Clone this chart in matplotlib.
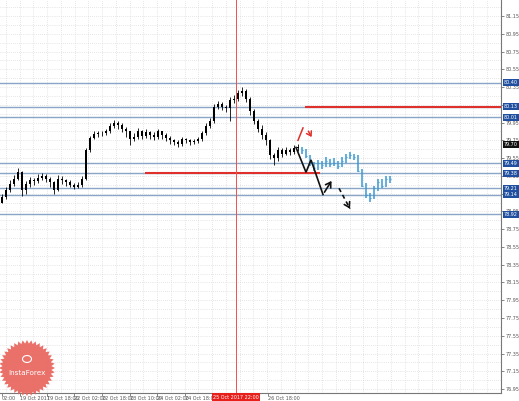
import numpy as np
import matplotlib
matplotlib.use("Agg")
import matplotlib.pyplot as plt
from matplotlib.patches import Polygon, Circle

# ---------------- data ----------------
hist_open = [79.05, 79.11, 79.19, 79.26, 79.32, 79.39, 79.19, 79.26, 79.30, 79.29,
             79.33, 79.35, 79.32, 79.28, 79.19, 79.32, 79.30, 79.28, 79.25, 79.23,
             79.25, 79.32, 79.64, 79.78, 79.82, 79.83, 79.83, 79.85, 79.91, 79.95,
             79.92, 79.88, 79.85, 79.77, 79.79, 79.85, 79.80, 79.84, 79.81, 79.79,
             79.85, 79.81, 79.78, 79.75, 79.73, 79.71, 79.76, 79.75, 79.73, 79.74,
             79.76, 79.83, 79.91, 79.97, 80.13, 80.16, 80.13, 80.11, 80.20, 80.22,
             80.28, 80.31, 80.22, 80.08, 79.97, 79.88, 79.81, 79.75, 79.58, 79.55,
             79.64, 79.60, 79.64, 79.62, 79.66]
hist_close = [79.11, 79.19, 79.26, 79.32, 79.39, 79.19, 79.26, 79.30, 79.29, 79.33,
              79.35, 79.32, 79.28, 79.19, 79.32, 79.30, 79.28, 79.25, 79.23, 79.25,
              79.32, 79.64, 79.78, 79.82, 79.83, 79.83, 79.85, 79.91, 79.95, 79.92,
              79.88, 79.85, 79.77, 79.79, 79.85, 79.80, 79.84, 79.81, 79.79, 79.85,
              79.81, 79.78, 79.75, 79.73, 79.71, 79.76, 79.75, 79.73, 79.74, 79.76,
              79.83, 79.91, 79.97, 80.13, 80.16, 80.13, 80.11, 80.20, 80.22, 80.28,
              80.31, 80.22, 80.08, 79.97, 79.88, 79.81, 79.75, 79.58, 79.55, 79.64,
              79.60, 79.64, 79.62, 79.66, 79.67]
hist_high = [79.15, 79.22, 79.30, 79.36, 79.44, 79.40, 79.29, 79.34, 79.33, 79.37,
             79.38, 79.37, 79.34, 79.29, 79.36, 79.35, 79.32, 79.30, 79.27, 79.28,
             79.35, 79.66, 79.80, 79.85, 79.86, 79.86, 79.88, 79.94, 79.98, 79.97,
             79.94, 79.90, 79.86, 79.83, 79.89, 79.87, 79.88, 79.86, 79.84, 79.88,
             79.86, 79.83, 79.80, 79.77, 79.75, 79.79, 79.78, 79.77, 79.77, 79.79,
             79.86, 79.94, 80.00, 80.16, 80.19, 80.18, 80.15, 80.24, 80.26, 80.32,
             80.35, 80.33, 80.24, 80.10, 79.99, 79.92, 79.84, 79.77, 79.61, 79.67,
             79.66, 79.67, 79.66, 79.70, 79.71]
hist_low = [79.04, 79.09, 79.17, 79.24, 79.30, 79.12, 79.15, 79.23, 79.25, 79.27,
            79.30, 79.28, 79.22, 79.15, 79.18, 79.26, 79.24, 79.22, 79.20, 79.21,
            79.23, 79.30, 79.62, 79.76, 79.79, 79.80, 79.81, 79.83, 79.89, 79.88,
            79.84, 79.79, 79.70, 79.74, 79.77, 79.76, 79.78, 79.77, 79.75, 79.77,
            79.77, 79.74, 79.71, 79.70, 79.68, 79.69, 79.72, 79.70, 79.71, 79.72,
            79.74, 79.81, 79.89, 79.95, 80.10, 80.09, 80.07, 79.97, 80.17, 80.19,
            80.25, 80.18, 80.04, 79.93, 79.84, 79.77, 79.70, 79.54, 79.47, 79.52,
            79.56, 79.58, 79.58, 79.60, 79.63]

fc_close = [79.64, 79.57, 79.49, 79.44, 79.49, 79.47, 79.52, 79.48, 79.50, 79.46,
            79.52, 79.56, 79.58, 79.56, 79.41, 79.24, 79.13, 79.10, 79.21, 79.28,
            79.24, 79.32, 79.31]
fc_high = [79.67, 79.65, 79.58, 79.51, 79.53, 79.52, 79.56, 79.54, 79.55, 79.52,
           79.56, 79.60, 79.62, 79.60, 79.58, 79.43, 79.27, 79.16, 79.24, 79.31,
           79.31, 79.35, 79.35]
fc_low = [79.60, 79.55, 79.46, 79.41, 79.42, 79.43, 79.45, 79.45, 79.46, 79.43,
          79.45, 79.50, 79.54, 79.53, 79.39, 79.22, 79.10, 79.06, 79.09, 79.18,
          79.21, 79.22, 79.27]

level_prices = [80.40, 80.13, 80.01, 79.49, 79.38, 79.21, 79.14, 78.92]
current_price = 79.70
red_level_low = 79.38
red_level_high = 80.13

zigzag_x = [73.5, 76.0, 77.25, 80.25, 82.75]
zigzag_y = [79.67, 79.39, 79.53, 79.14, 79.32]
dash_x = [84.25, 87.0]
dash_y = [79.21, 78.98]
red_up_x = [74.0, 75.25]
red_up_y = [79.75, 79.89]
red_dn_x = [76.25, 77.75]
red_dn_y = [79.88, 79.76]

ytick_vals = [76.95 + 0.2 * k for k in range(23)]
xtick_pos = [0, 4.5, 11.25, 18, 25, 32, 38.75, 45.75, 52.75, 66.5]
xtick_labels = ["02:00", "19 Oct 2017", "19 Oct 18:00", "22 Oct 02:00", "22 Oct 18:00",
                "23 Oct 10:00", "24 Oct 02:00", "24 Oct 18:00", "25 Oct 10:00",
                "26 Oct 18:00"]
cursor_x = 58.5
cursor_label = "25 Oct 2017 22:00"

# ---------------- figure ----------------
W, H = 519, 401
fig = plt.figure(figsize=(W / 100, H / 100), dpi=100)
fig.patch.set_facecolor("white")
ax = fig.add_axes([0, 8.5 / H, 501 / W, 392.5 / H])
ax.set_facecolor("white")

XL = (-0.5, -0.5 + 501 / 4)
YL = (76.911, 81.33)

ax.set_yticks(ytick_vals)
ax.set_yticks([v + 0.1 for v in ytick_vals[:-1]], minor=True)
ax.set_xticks(xtick_pos)
ax.set_xticks(list(np.arange(XL[0] + 1.5, XL[1], 3.4375)), minor=True)
ax.set_xlim(*XL)
ax.set_ylim(*YL)
ax.grid(True, which="minor", color="#cfcfcf", linestyle=(0, (1, 2)), linewidth=0.5)
ax.grid(True, which="major", axis="y", color="#cfcfcf", linestyle=(0, (1, 2)), linewidth=0.5)
ax.set_axisbelow(True)

# horizontal levels
for lp in level_prices:
    ax.axhline(lp, color="#8aa6c6", lw=1.0, zorder=1)

# red levels
ax.hlines(red_level_low, 35.75, 79.5, color="#e0302c", lw=1.5, zorder=2)
ax.hlines(red_level_high, 75.75, 125, color="#e0302c", lw=1.5, zorder=2)

# cursor line
ax.axvline(cursor_x, color="#f05050", lw=0.7, zorder=2)

# candles
xh = np.arange(len(hist_close))
ax.vlines(xh, hist_low, hist_high, color="black", lw=0.6, zorder=3)
bodies = [abs(c - o) if abs(c - o) > 0.004 else 0.006 for o, c in zip(hist_open, hist_close)]
bottoms = [min(o, c) for o, c in zip(hist_open, hist_close)]
ax.bar(xh, bodies, bottom=bottoms, width=0.55, color="black", zorder=3)

# forecast bars
xf = np.arange(len(fc_close)) + len(hist_close)
ax.vlines(xf, fc_low, fc_high, color="#3a9ad2", lw=1.1, zorder=3)
ax.hlines(fc_close, xf, xf + 0.35, color="#3a9ad2", lw=0.8, zorder=3)

# black zigzag
ax.plot(zigzag_x[:-1], zigzag_y[:-1], color="#111111", lw=1.2, zorder=5,
        solid_joinstyle="miter")
ax.annotate("", xy=(zigzag_x[-1], zigzag_y[-1]), xytext=(zigzag_x[-2], zigzag_y[-2]),
            arrowprops=dict(arrowstyle="->,head_length=0.35,head_width=0.22",
                            color="#111111", lw=1.2), zorder=5)
ax.plot(dash_x, dash_y, color="#111111", lw=1.2, ls=(0, (2.5, 2)), zorder=5)
ax.annotate("", xy=(dash_x[-1], dash_y[-1]), xytext=(dash_x[-1] - 0.6, dash_y[-1] + 0.05),
            arrowprops=dict(arrowstyle="->,head_length=0.35,head_width=0.22",
                            color="#111111", lw=1.2), zorder=5)

# red marks
ax.plot(red_up_x, red_up_y, color="#e0302c", lw=1.1, zorder=5)
ax.annotate("", xy=(red_dn_x[1], red_dn_y[1]), xytext=(red_dn_x[0], red_dn_y[0]),
            arrowprops=dict(arrowstyle="->,head_length=0.3,head_width=0.2",
                            color="#e0302c", lw=1.1), zorder=5)

# axes styling
for s in ["top", "left"]:
    ax.spines[s].set_visible(False)
for s in ["right", "bottom"]:
    ax.spines[s].set_color("#777777")
    ax.spines[s].set_linewidth(0.8)
ax.yaxis.tick_right()
ax.set_yticklabels(["%.2f" % v for v in ytick_vals])
ax.set_xticklabels(xtick_labels)
ax.tick_params(axis="y", which="major", labelsize=3.5, length=2, pad=1.5,
               colors="#555555", width=0.5)
ax.tick_params(axis="x", which="major", labelsize=3.5, length=2, pad=0.5,
               colors="#555555", width=0.5)
ax.tick_params(which="minor", length=0)
for lbl in ax.get_xticklabels():
    lbl.set_ha("left")

# price boxes on right axis
ytr = ax.get_yaxis_transform()
for lp in level_prices:
    ax.text(1.006, lp, "%.2f" % lp, transform=ytr, fontsize=3.5, color="white",
            va="center", ha="left", clip_on=False, zorder=10,
            bbox=dict(boxstyle="square,pad=0.2", fc="#1f4f9e", ec="none"))
ax.text(1.006, current_price, "%.2f" % current_price, transform=ytr, fontsize=3.5,
        color="white", va="center", ha="left", clip_on=False, zorder=10,
        bbox=dict(boxstyle="square,pad=0.2", fc="#111111", ec="none"))

# cursor time box
xtr = ax.get_xaxis_transform()
ax.text(cursor_x, -0.006, cursor_label, transform=xtr, fontsize=3.5, color="white",
        va="top", ha="center", clip_on=False, zorder=10,
        bbox=dict(boxstyle="square,pad=0.3", fc="#e8201c", ec="none"))

# logo (InstaForex style badge)
cx, cy = 27 / W, (H - 368) / H
n = 40
ang = np.linspace(0, 2 * np.pi, 2 * n, endpoint=False)
rad = np.where(np.arange(2 * n) % 2 == 0, 28.0, 24.5)
pts = np.column_stack([cx + rad * np.cos(ang) / W, cy + rad * np.sin(ang) / H])
fig.add_artist(Polygon(pts, closed=True, transform=fig.transFigure,
                       fc="#e8625a", ec="none", alpha=0.9, zorder=20))
fig.add_artist(Circle((cx, cy + 9 / H), 4.5 / W, transform=fig.transFigure,
                      fc="none", ec="white", lw=0.8, zorder=21))
fig.text(cx, cy - 5 / H, "InstaForex", color="white", fontsize=5.2,
         ha="center", va="center", zorder=22)

fig.savefig("out.png", dpi=100)
